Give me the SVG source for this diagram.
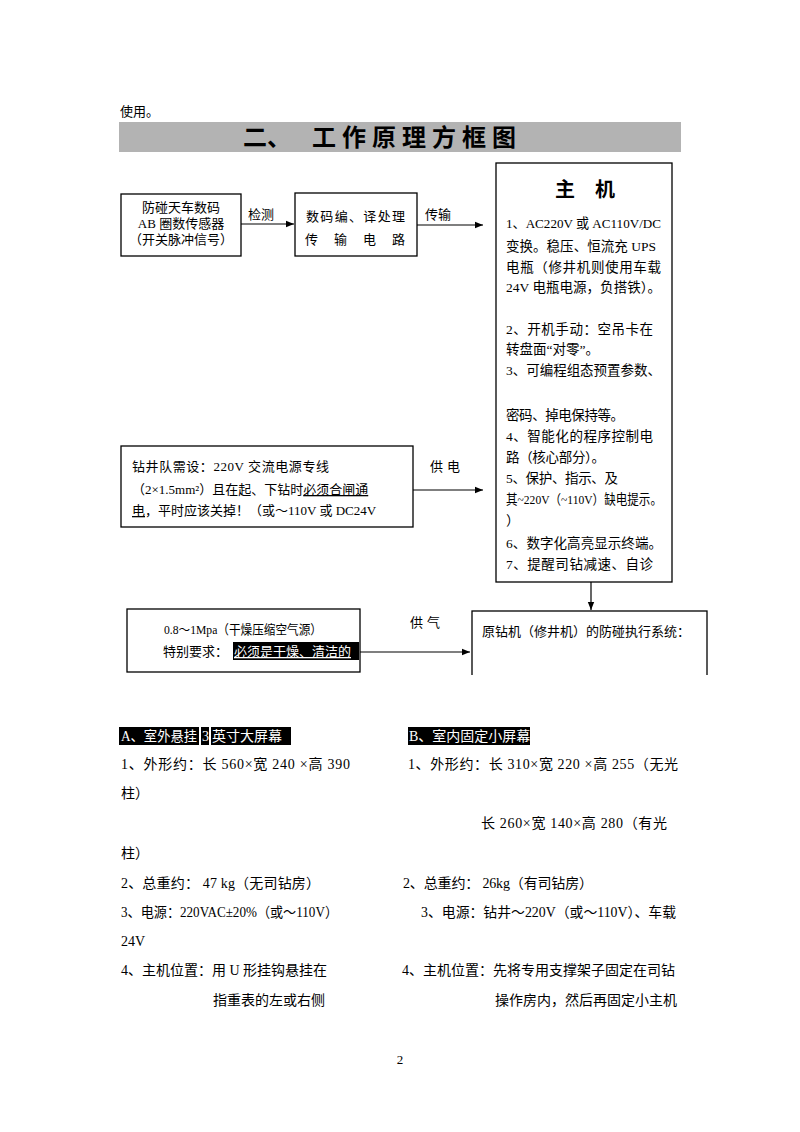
<svg xmlns="http://www.w3.org/2000/svg" width="800" height="1132" viewBox="0 0 800 1132">
<style>
text{font-family:"Liberation Serif","Noto Sans CJK SC",serif;fill:#000}
.t13{font-size:13px}
.t135{font-size:13.5px}
.t14{font-size:14px}
.b{fill:#fff;stroke:#000;stroke-width:1.3}
.c{stroke:#000;stroke-width:1.2;fill:none}
.hl{fill:#000}
.w{fill:#fff}
</style>
<defs>
<marker id="ah" viewBox="0 0 10 10" refX="10" refY="5" markerWidth="8" markerHeight="8" markerUnits="userSpaceOnUse" orient="auto"><path d="M0,1 L10,5 L0,9 z" fill="#000"/></marker>
<clipPath id="cp1"><rect x="122" y="447" width="290" height="79"/></clipPath>
</defs>
<rect width="800" height="1132" fill="#fff"/>
<text x="120" y="116" class="t13">使用。</text>
<g id="title">
<rect x="119" y="122" width="562" height="30" fill="#b3b3b3"/>
<text x="243" y="146" style="font-size:24px;font-weight:bold">二、</text>
<text x="312" y="146" style="font-size:24px;font-weight:bold;letter-spacing:6px">工作原理方框图</text>
</g>
<g id="sensor">
<rect x="121" y="194" width="120" height="62" class="b"/>
<text x="181" y="212" class="t13" text-anchor="middle">防碰天车数码</text>
<text x="181" y="228" class="t13" text-anchor="middle">AB 圈数传感器</text>
<text x="181" y="244" class="t13" text-anchor="middle">（开关脉冲信号）</text>
</g>
<g id="codec">
<rect x="295" y="193" width="122" height="63" class="b"/>
<text x="306" y="221" class="t13" textLength="99" lengthAdjust="spacing">数码编、译处理</text>
<text x="305" y="244" class="t13" textLength="100" lengthAdjust="spacing">传输电路</text>
</g>
<g id="host">
<rect x="496" y="163" width="176" height="419" class="b"/>
<text x="555" y="197" style="font-size:20px;font-weight:bold">主</text>
<text x="595" y="197" style="font-size:20px;font-weight:bold">机</text>
<g class="t135">
<text x="506" y="228" textLength="155" lengthAdjust="spacingAndGlyphs">1、AC220V 或 AC110V/DC</text>
<text x="506" y="251" textLength="150" lengthAdjust="spacing">变换。稳压、恒流充 UPS</text>
<text x="506" y="272" textLength="155" lengthAdjust="spacing">电瓶（修井机则使用车载</text>
<text x="506" y="292" textLength="155" lengthAdjust="spacingAndGlyphs">24V 电瓶电源，负搭铁）。</text>
<text x="506" y="334" textLength="147" lengthAdjust="spacing">2、开机手动：空吊卡在</text>
<text x="506" y="354">转盘面“对零”。</text>
<text x="506" y="375" textLength="155" lengthAdjust="spacing">3、可编程组态预置参数、</text>
<text x="506" y="420" textLength="118" lengthAdjust="spacing">密码、掉电保持等。</text>
<text x="506" y="441" textLength="147" lengthAdjust="spacing">4、智能化的程序控制电</text>
<text x="506" y="462" textLength="99" lengthAdjust="spacing">路（核心部分）。</text>
<text x="506" y="483" textLength="112" lengthAdjust="spacing">5、保护、指示、及</text>
<text x="506" y="504" textLength="156" lengthAdjust="spacingAndGlyphs">其~220V（~110V）缺电提示。</text>
<text x="506" y="525">）</text>
<text x="506" y="548" textLength="156" lengthAdjust="spacing">6、数字化高亮显示终端。</text>
<text x="506" y="569" textLength="147" lengthAdjust="spacing">7、提醒司钻减速、自诊</text>
</g>
</g>
<g id="power">
<rect x="121" y="446" width="292" height="81" class="b"/>
<g clip-path="url(#cp1)" class="t13">
<text x="132" y="471" textLength="197" lengthAdjust="spacing">钻井队需设：220V 交流电源专线</text>
<text x="132" y="494">（2×1.5mm²）且在起、下钻时<tspan text-decoration="underline">必须合闸通</tspan></text>
<text x="132" y="515"><tspan text-decoration="underline">电</tspan>，平时应该关掉！（或～110V 或 DC24V</text>
</g>
</g>
<g id="air">
<rect x="127" y="609" width="233" height="63" class="b"/>
<text x="164" y="634" class="t13" textLength="158" lengthAdjust="spacingAndGlyphs">0.8～1Mpa（干燥压缩空气源）</text>
<text x="163" y="656" class="t13">特别要求：</text>
<rect x="233" y="642" width="126" height="18" class="hl"/>
<text x="234" y="656" class="t13 w" text-decoration="underline">必须是干燥、清洁的</text>
</g>
<g id="exec">
<rect x="472" y="611" width="235" height="70" class="b"/>
<text x="482" y="636" class="t13">原钻机（修井机）的防碰执行系统：</text>
<rect x="471" y="675" width="240" height="10" fill="#fff"/>
</g>
<g id="connectors">
<line x1="241" y1="224" x2="294" y2="224" class="c" marker-end="url(#ah)"/>
<text x="248" y="219" class="t13">检测</text>
<line x1="417" y1="225" x2="483" y2="225" class="c" marker-end="url(#ah)"/>
<text x="425" y="219" class="t13">传输</text>
<line x1="413" y1="490" x2="483" y2="490" class="c" marker-end="url(#ah)"/>
<text x="430" y="471" class="t13" style="letter-spacing:4px">供电</text>
<line x1="591" y1="582" x2="591" y2="610" class="c" marker-end="url(#ah)"/>
<line x1="360" y1="652" x2="470" y2="652" class="c" marker-end="url(#ah)"/>
<text x="410" y="627" class="t13" style="letter-spacing:4px">供气</text>
</g>
<g id="specs" class="t14">
<rect x="119" y="727" width="80" height="18" class="hl"/>
<rect x="201" y="727" width="8" height="18" class="hl"/>
<rect x="211" y="727" width="80" height="18" class="hl"/>
<text x="121" y="741" class="w" textLength="76" lengthAdjust="spacingAndGlyphs">A、室外悬挂</text>
<text x="202" y="741" class="w">3</text>
<text x="212" y="741" class="w">英寸大屏幕</text>
<rect x="408" y="727" width="122" height="18" class="hl"/>
<text x="409" y="741" class="w">B、室内固定小屏幕</text>
<text x="121" y="769" textLength="229" lengthAdjust="spacing">1、外形约：长 560×宽 240 ×高 390</text>
<text x="408" y="769" textLength="270" lengthAdjust="spacing">1、外形约：长 310×宽 220 ×高 255（无光</text>
<text x="121" y="798">柱）</text>
<text x="481" y="828" textLength="186" lengthAdjust="spacing">长 260×宽 140×高 280（有光</text>
<text x="121" y="858">柱）</text>
<text x="121" y="888" textLength="199" lengthAdjust="spacing">2、总重约： 47 kg（无司钻房）</text>
<text x="403" y="888" textLength="190" lengthAdjust="spacing">2、总重约： 26kg（有司钻房）</text>
<text x="121" y="917" textLength="217" lengthAdjust="spacingAndGlyphs">3、电源：220VAC±20%（或～110V）</text>
<text x="421" y="917" textLength="255" lengthAdjust="spacingAndGlyphs">3、电源：钻井～220V（或～110V）、车载</text>
<text x="121" y="946">24V</text>
<text x="121" y="975">4、主机位置：用 U 形挂钩悬挂在</text>
<text x="402" y="975">4、主机位置：先将专用支撑架子固定在司钻</text>
<text x="213" y="1005">指重表的左或右侧</text>
<text x="495" y="1005">操作房内，然后再固定小主机</text>
</g>
<text x="400" y="1064" class="t13" text-anchor="middle">2</text>
</svg>
